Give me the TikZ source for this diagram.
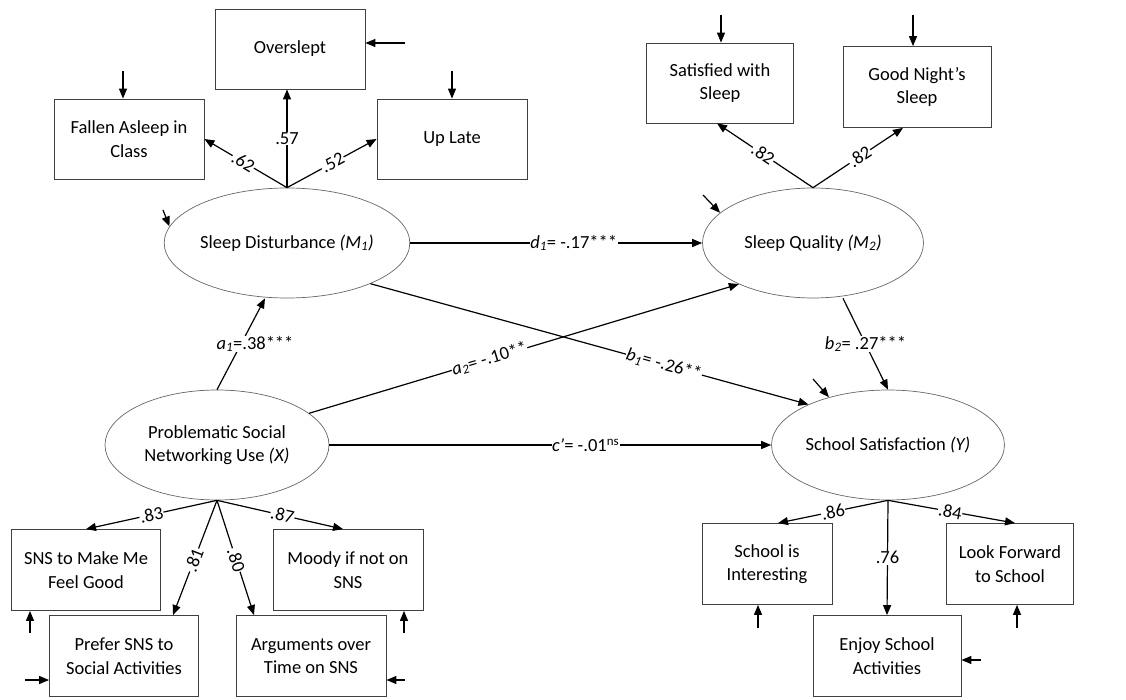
\documentclass[tikz,border=0pt]{standalone}
\usepackage{fontspec}
\setmainfont{Carlito}
\usetikzlibrary{arrows.meta,shapes.geometric}
% italic letter with italic subscript
\newcommand{\itsub}[2]{\textit{#1}\textsubscript{\textit{#2}}}

\begin{document}
\begin{tikzpicture}[x=1pt,y=-1pt,
  every node/.style={font=\fontsize{18.5}{23.5}\selectfont},
  obs/.style={draw=black!75, line width=0.8pt, minimum width=150pt, minimum height=80pt,
              align=center, inner sep=0pt},
  lat/.style={ellipse, draw=black!60, line width=0.7pt, minimum width=224pt,
              minimum height=110pt, align=center, inner sep=0pt},
  arr/.style={line width=1.2pt, -{Triangle[length=10pt,width=8pt]}},
  lbl/.style={fill=white, inner sep=0.5pt},
]
\useasboundingbox (0,0) rectangle (1126,700);

% ---------- latent variables ----------
\node[lat] (sd) at (287,243) {Sleep Disturbance \textit{(M\textsubscript{1})}};
\node[lat, minimum width=221pt] (sq) at (813,243) {Sleep Quality \textit{(M\textsubscript{2})}};
\node[lat] (pu) at (217,445) {Problematic Social\\Networking Use \textit{(X)}};
\node[lat, minimum width=221pt] (ss) at (888,445) {School Satisfaction \textit{(Y)}};

% ---------- indicators ----------
\node[obs] (ovs) at (290,49)  {Overslept};
\node[obs] (fa)  at (129,139) {Fallen Asleep in\\Class};
\node[obs] (ul)  at (452,139) {Up Late};
\node[obs, minimum width=147pt] (sat) at (720,83) {Satisfied with\\Sleep};
\node[obs, minimum width=148pt, minimum height=81pt] (gn) at (917,87) {Good Night’s\\Sleep};

\node[obs, minimum width=149pt, minimum height=81pt] (sns)   at (86,570)  {SNS to Make Me\\Feel Good};
\node[obs, minimum width=149pt, minimum height=81pt] (pref)  at (124,656) {Prefer SNS to\\Social Activities};
\node[obs, minimum width=150pt, minimum height=81pt] (argu)  at (311,656) {Arguments over\\Time on SNS};
\node[obs, minimum width=150pt, minimum height=81pt] (moody) at (348,570) {Moody if not on\\SNS};

\node[obs, minimum width=130pt, minimum height=81pt] (int) at (767,564)  {School is\\Interesting};
\node[obs, minimum width=148pt, minimum height=81pt] (enj) at (887,656)  {Enjoy School\\Activities};
\node[obs, minimum width=127pt, minimum height=81pt] (lf)  at (1010,564) {Look Forward\\to School};

% ---------- loadings ----------
\draw[arr] (sd.north) -- node[lbl, sloped, pos=0.53] {.62} (fa.east);
\draw[arr] (sd.north) -- node[lbl, pos=0.5] {.57} (sd.north |- ovs.south);
\draw[arr] (sd.north) -- node[lbl, sloped, pos=0.51] {.52} (ul.west);

\draw[arr] (sq.north) -- node[lbl, sloped, pos=0.52] {.82} ([xshift=-3pt]sat.south);
\draw[arr] (sq.north) -- node[lbl, sloped, pos=0.52] {.82} ([xshift=-14pt]gn.south);

\draw[arr] (pu.south) -- node[lbl, sloped, pos=0.5]  {.83} (sns.north);
\draw[arr] (pu.south) -- node[lbl, sloped, pos=0.52] {.81} ([xshift=49pt]pref.north);
\draw[arr] (pu.south) -- node[lbl, sloped, pos=0.52] {.80} ([xshift=-57pt]argu.north);
\draw[arr] (pu.south) -- node[lbl, sloped, pos=0.52] {.87} ([xshift=-5pt]moody.north);

\draw[arr] (ss.south) -- node[lbl, sloped, pos=0.5]  {.86} ([xshift=11pt]int.north);
\draw[arr] (ss.south) -- node[lbl, pos=0.5] {.76} (enj.north);
\draw[arr] (ss.south) -- node[lbl, sloped, pos=0.49] {.84} ([xshift=5pt]lf.north);

% ---------- structural paths ----------
\draw[arr] (pu.north) -- node[lbl, xshift=14pt] {\itsub{a}{1}=.38***} ([xshift=-22pt]sd.south);
\draw[arr] (pu.19) -- node[lbl, sloped, pos=0.42] {\itsub{a}{2}= -.10**} (sq.209);
\draw[arr] (sd.east) -- node[lbl, pos=0.56] {\itsub{d}{1}= -.17***} (sq.west);
\draw[arr] (sd.334) -- node[lbl, sloped, pos=0.67] {\itsub{b}{1}= -.26**} (ss.153);
\draw[arr] ([xshift=30pt]sq.south) -- node[lbl] {\itsub{b}{2}= .27***} (ss.north);
\draw[arr] (pu.east) -- node[lbl, pos=0.58] {\textit{c’}= -.01\textsuperscript{ns}} (ss.west);

% ---------- residual terms ----------
\coordinate (e-ovs) at (405,43);
\coordinate (e-fa)  at (123,71);
\coordinate (e-ul)  at (452,71);
\coordinate (e-sat) at (721,15);
\coordinate (e-gn)  at (913,15);
\coordinate (e-sd)  at (163,210);
\coordinate (e-sq)  at (703,195);
\coordinate (e-ss)  at (813,379);
\coordinate (e-sns) at (30,633);
\coordinate (e-pref) at (25,680);
\coordinate (e-argu) at (405,680);
\coordinate (e-moody) at (404,633);
\coordinate (e-int) at (758,628);
\coordinate (e-lf)  at (1017,628);
\coordinate (e-enj) at (981,660);

\draw[arr] (e-ovs) -- (e-ovs -| ovs.east);
\draw[arr] (e-fa) -- (e-fa |- fa.north);
\draw[arr] (e-ul) -- (e-ul |- ul.north);
\draw[arr] (e-sat) -- (e-sat |- sat.north);
\draw[arr] (e-gn) -- (e-gn |- gn.north);
\draw[arr] (e-sd) -- (sd.172);
\draw[arr] (e-sq) -- (sq.162);
\draw[arr] (e-ss) -- (ss.141);
\draw[arr] (e-sns) -- (e-sns |- sns.south);
\draw[arr] (e-pref) -- (e-pref -| pref.west);
\draw[arr] (e-argu) -- (e-argu -| argu.east);
\draw[arr] (e-moody) -- (e-moody |- moody.south);
\draw[arr] (e-int) -- (e-int |- int.south);
\draw[arr] (e-lf) -- (e-lf |- lf.south);
\draw[arr] (e-enj) -- (e-enj -| enj.east);
\end{tikzpicture}
\end{document}
